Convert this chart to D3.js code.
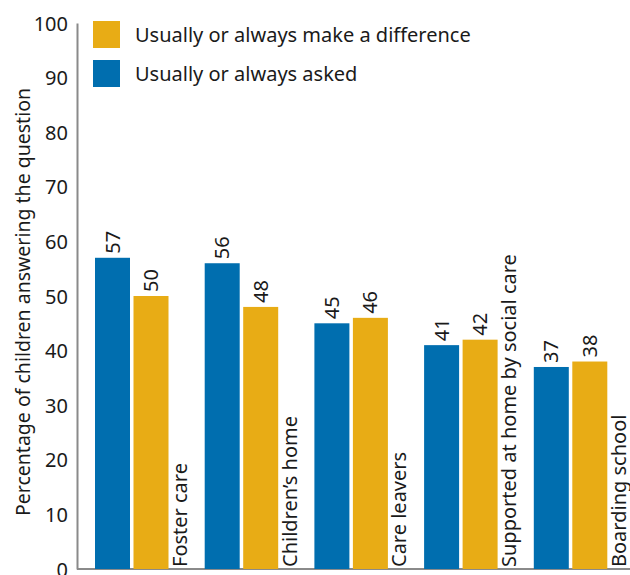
<!doctype html>
<html>
<head>
    <style>
        body { margin: 0; background: #fff; }
        text { font-family: "Noto Sans", "Open Sans", sans-serif; fill: #1a1a1a; }
        .axis path { stroke: #8a8a8a; stroke-width: 2px; }
    </style>
    <script src="https://d3js.org/d3.v7.min.js"></script>
</head>
<body>
<svg width="630" height="575"></svg>
<script>

    var categories = ["Foster care", "Children\u2019s home", "Care leavers", "Supported at home by social care", "Boarding school"];
    var asked = [57, 56, 45, 41, 37];
    var difference = [50, 48, 46, 42, 38];
    var yTicks = [0, 10, 20, 30, 40, 50, 60, 70, 80, 90, 100];

    var blue = "#006eaf",
        yellow = "#e8ac15";

    var svg = d3.select("svg");

    var xScale = d3.scaleBand().domain(categories).range([95, 643.5]).paddingInner(0).paddingOuter(0),
        yScale = d3.scaleLinear().domain([0, 100]).range([569, 23]);

    var yAxis = svg.append("g")
        .attr("class", "axis")
        .attr("transform", "translate(77,0)")
        .call(d3.axisLeft(yScale).tickValues(yTicks).tickSize(0).tickPadding(9));
    yAxis.selectAll("text").attr("font-size", "20px").attr("dy", "0.35em");

    svg.append("line")
        .attr("x1", 77).attr("x2", 630)
        .attr("y1", yScale(0)).attr("y2", yScale(0))
        .attr("stroke", "#8a8a8a").attr("stroke-width", 2);

    var rows = categories.map(function(c, i) {
        return { cat: c, asked: asked[i], difference: difference[i] };
    });

    var groups = svg.selectAll(".grp")
        .data(rows)
        .enter().append("g")
        .attr("class", "grp")
        .attr("transform", function(d) { return "translate(" + xScale(d.cat) + ",0)"; });

    var barW = 35;

    groups.append("rect")
        .attr("x", 0)
        .attr("y", function(d) { return yScale(d.asked); })
        .attr("width", barW)
        .attr("height", function(d) { return yScale(0) - yScale(d.asked); })
        .attr("fill", blue);

    groups.append("rect")
        .attr("x", 38.5)
        .attr("y", function(d) { return yScale(d.difference); })
        .attr("width", barW)
        .attr("height", function(d) { return yScale(0) - yScale(d.difference); })
        .attr("fill", yellow);

    // value labels
    groups.append("text")
        .attr("transform", function(d) { return "translate(" + (barW / 2 + 7) + "," + (yScale(d.asked) - 4) + ") rotate(-90)"; })
        .attr("font-size", "20px")
        .text(function(d) { return d.asked; });

    groups.append("text")
        .attr("transform", function(d) { return "translate(" + (38.5 + barW / 2 + 7) + "," + (yScale(d.difference) - 4) + ") rotate(-90)"; })
        .attr("font-size", "20px")
        .text(function(d) { return d.difference; });

    // category labels
    groups.append("text")
        .attr("transform", "translate(" + 92 + "," + (yScale(0) - 2) + ") rotate(-90)")
        .attr("font-size", "20px")
        .text(function(d) { return d.cat; });

    // y axis title
    svg.append("text")
        .attr("transform", "translate(30,302) rotate(-90)")
        .attr("text-anchor", "middle")
        .attr("font-size", "19.5px")
        .text("Percentage of children answering the question");

    // legend
    var legend = [
        { label: "Usually or always make a difference", color: yellow },
        { label: "Usually or always asked", color: blue }
    ];
    var leg = svg.selectAll(".leg")
        .data(legend)
        .enter().append("g")
        .attr("class", "leg")
        .attr("transform", function(d, i) { return "translate(93," + (21 + i * 39) + ")"; });
    leg.append("rect").attr("width", 27).attr("height", 27).attr("fill", function(d) { return d.color; });
    leg.append("text").attr("x", 42).attr("y", 21).attr("font-size", "20px").text(function(d) { return d.label; });

</script>
</body>
</html>
